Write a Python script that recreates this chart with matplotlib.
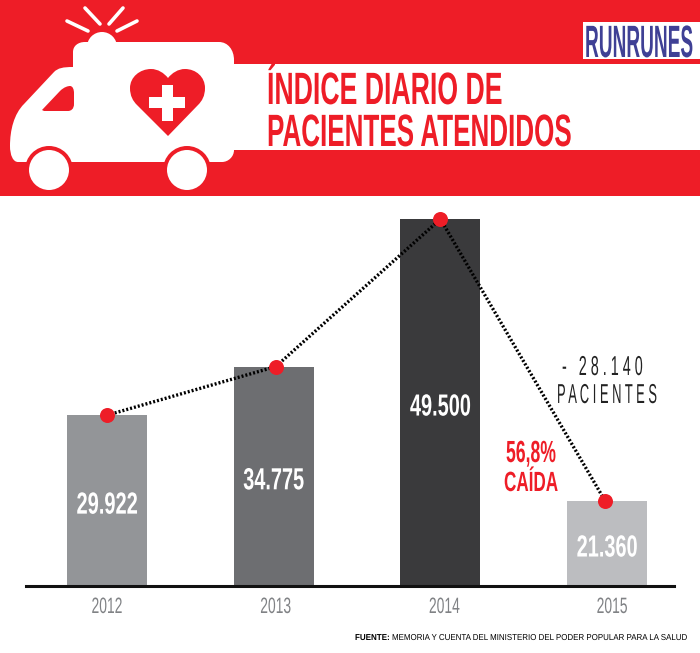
# Daily patients chart with the ambulance header

import matplotlib
matplotlib.use("Agg")
import matplotlib.pyplot as plt
from matplotlib.patches import Circle, PathPatch, Rectangle
from matplotlib.path import Path
from matplotlib.patheffects import AbstractPathEffect
from matplotlib.text import Text
from matplotlib.transforms import Affine2D, Bbox

RED = '#EE1D27'
BLUE = '#3F4095'
FONT = 'Liberation Sans'
FLOOR = 12877
PX_PER_SLOT = 166.7

years = ['2012', '2013', '2014', '2015']
patients = [29922, 34775, 49500, 21360]
value_labels = ['29.922', '34.775', '49.500', '21.360']
bar_colors = ['#939598', '#6D6E71', '#3A3A3C', '#BCBDC0']

title_lines = ['ÍNDICE DIARIO DE', 'PACIENTES ATENDIDOS']
source_head = 'FUENTE:'
source_body = 'MEMORIA Y CUENTA DEL MINISTERIO DEL PODER POPULAR PARA LA SALUD'

M, L, C = Path.MOVETO, Path.LINETO, Path.CURVE4

class Squeeze(AbstractPathEffect):
  def __init__(self, factor, x0):
    super().__init__()
    self.factor = factor
    self.x0 = x0

  def draw_path(self, renderer, gc, tpath, affine, rgbFace=None):
    squeezed = affine + Affine2D().translate(-self.x0, 0).scale(self.factor, 1).translate(self.x0, 0)
    renderer.draw_path(gc, tpath, squeezed, rgbFace)

# no condensed font is available, so the glyphs get narrowed to a set pixel width
class CondensedText(Text):
  def __init__(self, x, y, s, width, **kwargs):
    super().__init__(x, y, s, **kwargs)
    self.target_width = width

  def anchor_x(self):
    return self.get_transform().transform(self.get_unitless_position())[0]

  def draw(self, renderer):
    natural = super().get_window_extent(renderer)
    self.set_path_effects([Squeeze(self.target_width / natural.width, self.anchor_x())])
    super().draw(renderer)

  def get_window_extent(self, renderer=None, dpi=None):
    box = super().get_window_extent(renderer, dpi)
    factor = self.target_width / box.width
    x0 = self.anchor_x()
    return Bbox.from_extents(x0 + (box.x0 - x0) * factor, box.y0, x0 + (box.x1 - x0) * factor, box.y1)

def shape(ax, points, codes, color, zorder):
  patch = PathPatch(Path(points + [points[0]], codes + [Path.CLOSEPOLY]), facecolor=color, edgecolor='none', zorder=zorder)
  ax.add_patch(patch)

def label(ax, x, y, s, width, size, color, weight='normal', ha='left', zorder=8, **kwargs):
  text = CondensedText(x, y, s, width, color=color, fontsize=size, fontweight=weight, family=FONT, ha=ha, va='baseline', zorder=zorder, **kwargs)
  ax.add_artist(text)

fig = plt.figure(figsize=(7, 6.53), dpi=100, facecolor='white')

# overlay in pixel units for the header artwork and notes
art = fig.add_axes([0, 0, 1, 1], zorder=2)
art.set_xlim(0, 700)
art.set_ylim(653, 0)
art.axis('off')

art.add_patch(Rectangle((0, 0), 700, 196, facecolor=RED, edgecolor='none', zorder=1))
art.add_patch(Rectangle((225, 64), 475, 86, facecolor='white', edgecolor='none', zorder=2))

# ambulance body
body = [(85, 42), (219, 42), (228, 42), (234, 50), (234, 60), (234, 150), (234, 157), (228, 162), (222, 162),
        (18, 162), (13, 162), (10, 155), (10, 146), (10, 130), (14, 114), (24, 104),
        (54, 72), (58, 68), (63, 67), (73, 67), (73, 52), (73, 46), (78, 42)]
body_codes = [M, L, C, C, C, L, C, C, C, L, C, C, C, C, C, C, L, C, C, C, L, C, C]
shape(art, body, body_codes, 'white', 3)
art.add_patch(Circle((102, 47), 15, facecolor='white', edgecolor='none', zorder=3))

# beacon rays
for x1, y1, x2, y2 in [(67, 21, 88, 31), (85, 8, 100, 24), (109, 24, 123, 8), (117, 31, 137, 21)]:
  art.plot([x1, x2], [y1, y2], color='white', lw=2.6, solid_capstyle='round', zorder=3)

# window
window = [(42, 110), (60, 91), (64, 87), (68, 86), (70, 86), (73, 86), (74, 90), (74, 93), (74, 104), (74, 109), (71, 111), (68, 111), (44, 111)]
window_codes = [M, L, C, C, C, C, C, C, L, C, C, C, L]
shape(art, window, window_codes, RED, 4)

# heart and cross
heart = [(168, 136), (137, 105), (133, 101), (130, 96), (130, 88), (130, 77), (140, 69), (151, 69), (158, 69), (164, 73), (168, 78),
         (172, 73), (178, 69), (185, 69), (196, 69), (205, 77), (205, 88), (205, 96), (202, 101), (198, 105)]
heart_codes = [M, L, C, C, C, C, C, C, C, C, C, C, C, C, C, C, C, C, C, C]
shape(art, heart, heart_codes, RED, 4)
art.add_patch(Rectangle((149, 97), 36, 11, facecolor='white', edgecolor='none', zorder=5))
art.add_patch(Rectangle((162, 85), 11, 36, facecolor='white', edgecolor='none', zorder=5))

# wheels
for cx in [49, 187]:
  art.add_patch(Circle((cx, 170), 24, facecolor=RED, edgecolor='none', zorder=5))
  art.add_patch(Circle((cx, 170), 20, facecolor='white', edgecolor='none', zorder=6))

label(art, 267, 104, title_lines[0], 235, 32.6, RED, 'bold')
label(art, 267, 146, title_lines[1], 304, 32.6, RED, 'bold')

# logo
art.add_patch(Rectangle((583, 22), 117, 37, facecolor='white', edgecolor='none', zorder=7))
label(art, 585, 57, 'RUNRUNES', 108, 32.6, BLUE, 'bold')

label(art, 355, 640, source_head, 35, 6.2, 'black', 'bold')
label(art, 392, 640, source_body, 296, 6.2, 'black')

# notes over the drop
label(art, 602.5, 375, '-   2 8 . 1 4 0', 81, 19.7, '#222222', ha='center')
label(art, 607, 403, 'P A C I E N T E S', 100, 19.7, '#222222', ha='center')
label(art, 531, 462, '56,8%', 50, 22, RED, 'bold', ha='center')
label(art, 531, 491, 'CAÍDA', 54, 20, RED, 'bold', ha='center')

# the chart itself, y axis starts well above zero
ax = fig.add_axes([26 / 700, (653 - 586) / 653, 648 / 700, 390 / 653], zorder=1)
ax.patch.set_alpha(0)
ax.set_xlim(-0.486, 3.401)
ax.set_ylim(FLOOR, 51800)
xs = list(range(len(years)))
ax.bar(xs, patients, width=0.48, color=bar_colors, zorder=2)

# the line sits slightly off the bar centres, and the years drift right
line_xs = [x + dx / PX_PER_SLOT for x, dx in zip(xs, [0, 2, 0, -2])]
year_xs = [x + dx / PX_PER_SLOT for x, dx in zip(xs, [0, 2, 4, 5])]
ax.plot(line_xs, patients, color='black', lw=2.4, ls=(0, (0.6, 0.6)), zorder=3)
ax.plot(line_xs, patients, ls='none', marker='o', ms=10.8, color=RED, mec='none', zorder=4, clip_on=False)

for x, value, text in zip(xs, patients, value_labels):
  label(ax, x, (value + FLOOR) / 2 - 1300, text, 61, 22, 'white', 'bold', ha='center')

for side in ['top', 'left', 'right']:
  ax.spines[side].set_visible(False)
ax.spines['bottom'].set_linewidth(2.2)
ax.spines['bottom'].set_color('#111111')
ax.set_yticks([])
ax.set_xticks([])

# year labels hang under the axis line
for x, year in zip(year_xs, years):
  label(ax, x, -27 / 390, year, 31, 16, '#808285', ha='center', transform=ax.get_xaxis_transform(), clip_on=False)

fig.savefig('out.png', dpi=100, facecolor='white')
